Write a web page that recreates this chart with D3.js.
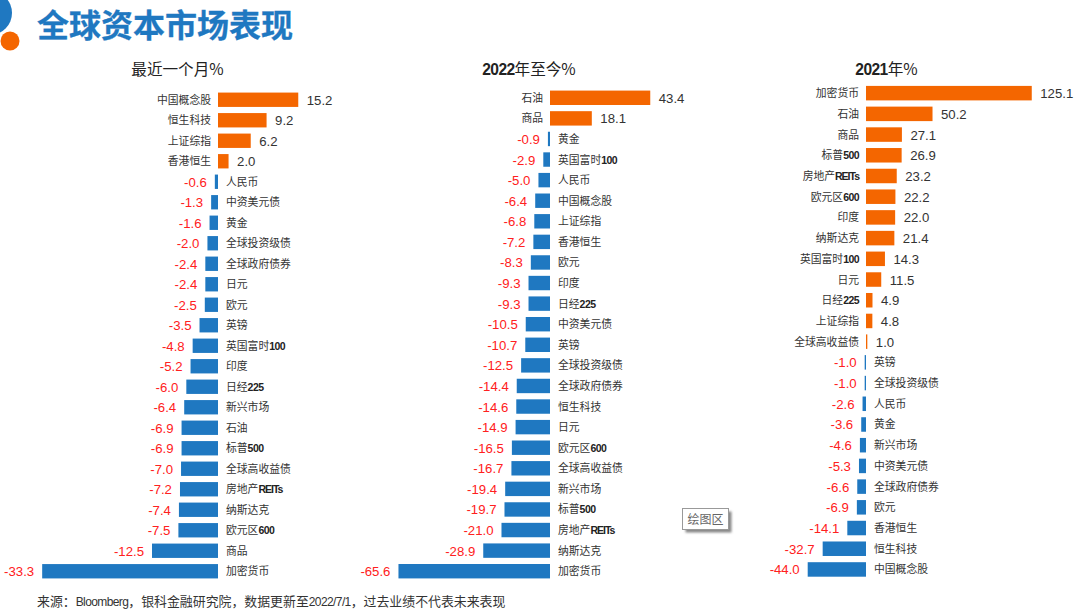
<!DOCTYPE html>
<html><head><meta charset="utf-8">
<script src="https://cdn.jsdelivr.net/npm/d3@7"></script>
<style>
html,body{margin:0;padding:0;background:#fff;overflow:hidden}
svg{display:block}
text{font-family:"Noto Sans CJK SC","Noto Sans",sans-serif}
.num{font-family:"Liberation Sans",Arial,sans-serif;font-size:13.2px}
.cat{font-size:10.8px;fill:#333}
.latin{font-family:"Liberation Sans Narrow","Liberation Sans",sans-serif;font-weight:700;fill:#222;letter-spacing:-0.55px;font-size:10.5px}
.letters{letter-spacing:-1px}
</style></head><body>
<svg id="c" width="1080" height="616"></svg>
<script>
const titleText = "全球资本市场表现";
const sourceText = "来源\uFF1ABloomberg\uFF0C银科金融研究院\uFF0C数据更新至2022/7/1\uFF0C过去业绩不代表未来表现";
const tooltipText = "绘图区";

const monthTitle = "最近一个月%";
const monthCats = ["中国概念股","恒生科技","上证综指","香港恒生","人民币","中资美元债","黄金","全球投资级债","全球政府债券","日元","欧元","英镑","英国富时100","印度","日经225","新兴市场","石油","标普500","全球高收益债","房地产REITs","纳斯达克","欧元区600","商品","加密货币"];
const monthVals = [15.2,9.2,6.2,2.0,-0.6,-1.3,-1.6,-2.0,-2.4,-2.4,-2.5,-3.5,-4.8,-5.2,-6.0,-6.4,-6.9,-6.9,-7.0,-7.2,-7.4,-7.5,-12.5,-33.3];

const ytdTitle = "2022年至今%";
const ytdCats = ["石油","商品","黄金","英国富时100","人民币","中国概念股","上证综指","香港恒生","欧元","印度","日经225","中资美元债","英镑","全球投资级债","全球政府债券","恒生科技","日元","欧元区600","全球高收益债","新兴市场","标普500","房地产REITs","纳斯达克","加密货币"];
const ytdVals = [43.4,18.1,-0.9,-2.9,-5.0,-6.4,-6.8,-7.2,-8.3,-9.3,-9.3,-10.5,-10.7,-12.5,-14.4,-14.6,-14.9,-16.5,-16.7,-19.4,-19.7,-21.0,-28.9,-65.6];

const y2021Title = "2021年%";
const y2021Cats = ["加密货币","石油","商品","标普500","房地产REITs","欧元区600","印度","纳斯达克","英国富时100","日元","日经225","上证综指","全球高收益债","英镑","全球投资级债","人民币","黄金","新兴市场","中资美元债","全球政府债券","欧元","香港恒生","恒生科技","中国概念股"];
const y2021Vals = [125.1,50.2,27.1,26.9,23.2,22.2,22.0,21.4,14.3,11.5,4.9,4.8,1.0,-1.0,-1.0,-2.6,-3.6,-4.6,-5.3,-6.6,-6.9,-14.1,-32.7,-44.0];

const panels = [
  {title:monthTitle,cats:monthCats,vals:monthVals,x0:218,k:5.28,yTop:89.5,yBot:581.5,tx:177.5,ty:70},
  {title:ytdTitle,cats:ytdCats,vals:ytdVals,x0:550,k:2.31,yTop:87.5,yBot:581.5,tx:529,ty:70},
  {title:y2021Title,cats:y2021Cats,vals:y2021Vals,x0:866,k:1.325,yTop:82.8,yBot:579.8,tx:886.5,ty:70}
];
const svg = d3.select("#c");
const BLUE="#1f78c1", ORANGE="#f46600";

svg.append("circle").attr("cx",-10).attr("cy",13).attr("r",22).attr("fill",BLUE);
svg.append("circle").attr("cx",10).attr("cy",41).attr("r",9.5).attr("fill",ORANGE);
svg.append("text").attr("x",37).attr("y",36.5).attr("font-size",32).attr("font-weight",700).attr("fill",BLUE).attr("stroke",BLUE).attr("stroke-width",0.3).text(titleText);

function addCat(sel){
  sel.each(function(d){
    const t=d3.select(this);
    d.cat.split(/([A-Za-z0-9]+)/).filter(Boolean).forEach(p=>{
      const s=t.append("tspan").text(p);
      if(/^[A-Za-z0-9]+$/.test(p)) s.attr("class",/[A-Za-z]/.test(p)?"latin letters":"latin");
    });
  });
}
panels.forEach(p=>{
  const rows=p.cats.map((cat,i)=>({cat,val:p.vals[i]}));
  const x=d3.scaleLinear().domain([0,1]).range([p.x0,p.x0+p.k]);
  const y=d3.scaleBand().domain(p.cats).range([p.yTop,p.yBot]).paddingInner(0.3).paddingOuter(0.15);
  const g=svg.append("g");
  const ttl=g.append("text").attr("x",p.tx).attr("y",p.ty+5).attr("text-anchor","middle").attr("font-size",15.6).attr("fill","#222");
  p.title.split(/(\d+)/).filter(Boolean).forEach(s=>{
    const t=ttl.append("tspan").text(s);
    if(/^\d+$/.test(s)) t.attr("font-family","Liberation Sans").attr("font-weight",700).attr("letter-spacing","-0.6px");
  });
  g.selectAll("rect").data(rows).join("rect")
    .attr("x",d=>Math.min(x(0),x(d.val))).attr("y",d=>y(d.cat))
    .attr("width",d=>Math.abs(x(d.val)-x(0))).attr("height",y.bandwidth())
    .attr("fill",d=>d.val>=0?ORANGE:BLUE);
  g.selectAll("text.cat").data(rows).join("text").attr("class","cat")
    .attr("x",d=>d.val>=0?x(0)-7:x(0)+8)
    .attr("y",d=>y(d.cat)+y.bandwidth()/2+4)
    .attr("text-anchor",d=>d.val>=0?"end":"start")
    .call(addCat);
  g.selectAll("text.num").data(rows).join("text").attr("class","num")
    .attr("x",d=>d.val>=0?x(d.val)+8.5:x(d.val)-8)
    .attr("y",d=>y(d.cat)+y.bandwidth()/2+5)
    .attr("text-anchor",d=>d.val>=0?"start":"end")
    .attr("fill",d=>d.val>=0?"#333":"#ff2020")
    .text(d=>d.val.toFixed(1));
});

const defs=svg.append("defs");
defs.append("filter").attr("id","blur").append("feGaussianBlur").attr("stdDeviation",1);
const tip=svg.append("g").attr("transform","translate(682,508)");
tip.append("rect").attr("x",3.5).attr("y",3.5).attr("width",46).attr("height",21).attr("fill","#888").attr("filter","url(#blur)");
tip.append("rect").attr("x",.5).attr("y",.5).attr("width",46).attr("height",21).attr("fill","#fff").attr("stroke","#999");
tip.append("text").attr("x",23.5).attr("y",15.5).attr("text-anchor","middle").attr("font-size",12).attr("fill","#666").text(tooltipText);

const src=svg.append("text").attr("x",37).attr("y",606).attr("font-size",12.9).attr("fill","#333");
sourceText.split(/([A-Za-z0-9\/]+)/).filter(Boolean).forEach(s=>{
  const t=src.append("tspan").text(s);
  if(/^[A-Za-z0-9\/]+$/.test(s)) t.attr("font-family","Liberation Sans").attr("font-size",12).attr("letter-spacing","-0.6px");
});
</script></body></html>
